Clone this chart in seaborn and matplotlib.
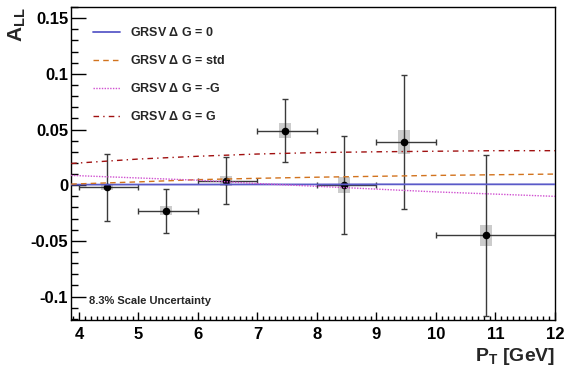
import numpy as np
import pandas as pd
import matplotlib
matplotlib.use("Agg")
import matplotlib.pyplot as plt
from matplotlib.ticker import MultipleLocator
import seaborn as sns

### data points (pT bins) ###
pt = [4.47, 5.47, 6.47, 7.47, 8.45, 9.47, 10.84]
all_vals = [-0.002, -0.023, 0.004, 0.049, 0.000, 0.039, -0.045]
x_lo = [4.0, 5.0, 6.0, 7.0, 8.0, 9.0, 10.0]
x_hi = [5.0, 6.0, 7.0, 8.0, 9.0, 10.0, 12.0]
stat_err = [0.030, 0.020, 0.021, 0.028, 0.044, 0.060, 0.072]
sys_err = [0.002, 0.004, 0.0045, 0.007, 0.007, 0.011, 0.0095]

### GRSV curves ###
pt_curve = [3.87, 5, 6, 7, 8, 9, 10, 11, 12]
grsv_zero = [0.0005, 0.0006, 0.0006, 0.0007, 0.0007, 0.0008, 0.0008, 0.0008, 0.0008]
grsv_std = [0.001, 0.003, 0.005, 0.0062, 0.0072, 0.008, 0.0088, 0.0094, 0.010]
grsv_minus_g = [0.0088, 0.0065, 0.0045, 0.0015, -0.001, -0.0035, -0.006, -0.008, -0.010]
grsv_g = [0.0195, 0.0235, 0.026, 0.028, 0.0293, 0.030, 0.0305, 0.031, 0.031]

sns.set_style("ticks")
plt.rcParams["font.family"] = ["Liberation Sans", "DejaVu Sans"]
plt.rcParams["font.weight"] = "bold"
plt.rcParams["mathtext.fontset"] = "custom"
plt.rcParams["mathtext.rm"] = "Liberation Sans:bold"
plt.rcParams["mathtext.bf"] = "Liberation Sans:bold"
plt.rcParams["mathtext.it"] = "Liberation Sans:bold"

fig = plt.figure(figsize=(5.67, 3.66), dpi=100)
ax = fig.add_axes([0.1252, 0.1257, 0.8536, 0.8552])

pt = np.array(pt)
all_vals = np.array(all_vals)
sys_err = np.array(sys_err)

# systematic boxes
ax.bar(pt, 2 * sys_err, bottom=all_vals - sys_err, width=0.2,
       color="#cccccc", linewidth=0, zorder=1)

# error bars
xerr = [pt - np.array(x_lo), np.array(x_hi) - pt]
ax.errorbar(pt, all_vals, xerr=xerr, yerr=stat_err, fmt="none",
            ecolor="#3a3a3a", elinewidth=1.0, capsize=2.2, capthick=1.0, zorder=2)
sns.scatterplot(x=pt, y=all_vals, color="black", s=30, edgecolor="black",
                linewidth=0, ax=ax, zorder=3)

### curves ###
sns.lineplot(x=pt_curve, y=grsv_zero, color="#5a5ac8", linewidth=1.3,
             ax=ax, label="GRSV $\\Delta$ G = 0", zorder=4)
sns.lineplot(x=pt_curve, y=grsv_std, color="#d2731e", linewidth=1.0,
             linestyle=(0, (4, 3)), ax=ax, label="GRSV $\\Delta$ G = std", zorder=4)
sns.lineplot(x=pt_curve, y=grsv_minus_g, color="#d050d0", linewidth=1.0,
             linestyle=(0, (1, 1)), ax=ax, label="GRSV $\\Delta$ G = -G", zorder=4)
sns.lineplot(x=pt_curve, y=grsv_g, color="#a01010", linewidth=1.0,
             linestyle=(0, (4, 3, 1, 3)), ax=ax, label="GRSV $\\Delta$ G = G", zorder=4)

ax.set_xlim(3.866, 12)
ax.set_ylim(-0.121, 0.160)

ax.xaxis.set_major_locator(MultipleLocator(1))
ax.xaxis.set_minor_locator(MultipleLocator(0.1))
ax.yaxis.set_major_locator(MultipleLocator(0.05))
ax.yaxis.set_minor_locator(MultipleLocator(0.01))
ax.set_yticks([-0.1, -0.05, 0, 0.05, 0.1, 0.15])
ax.set_yticklabels(["-0.1", "-0.05", "0", "0.05", "0.1", "0.15"])

ax.tick_params(axis="both", which="both", direction="in", colors="black",
               labelsize=12)
ax.tick_params(axis="y", which="major", length=11, width=1, pad=2)
ax.tick_params(axis="y", which="minor", length=5, width=1)
ax.tick_params(axis="x", which="major", length=6, width=1, pad=5)
ax.tick_params(axis="x", which="minor", length=3, width=1)
for lab in ax.get_xticklabels() + ax.get_yticklabels():
    lab.set_fontweight("bold")

for side in ["top", "right", "left", "bottom"]:
    ax.spines[side].set_visible(True)
    ax.spines[side].set_color("black")
    ax.spines[side].set_linewidth(1.0)

ax.set_ylabel("$\\mathbf{A_{LL}}$", fontsize=15, loc="top", labelpad=2)
ax.set_xlabel("$\\mathbf{P_{T}}$ [GeV]", fontsize=14, fontweight="bold",
              loc="right", labelpad=3)

ax.text(4.17, -0.104, "8.3% Scale Uncertainty", fontsize=8,
        fontweight="bold", va="center", ha="left")

leg = ax.legend(loc="upper left", bbox_to_anchor=(0.022, 0.975), frameon=False,
                fontsize=9, handlelength=2.15, handletextpad=0.8,
                labelspacing=1.2, borderaxespad=0.5)
for t in leg.get_texts():
    t.set_fontweight("bold")

fig.savefig("out.png", dpi=100)
